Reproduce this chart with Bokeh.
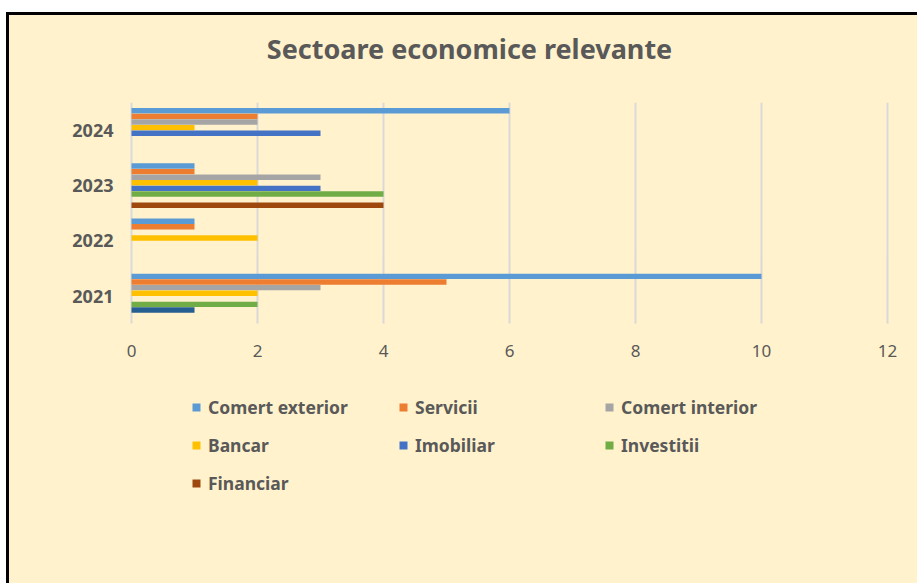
from bokeh.plotting import figure
from bokeh.models import (Range1d, FixedTicker, Legend, LegendItem, LinearAxis, Label)
from bokeh.transform import dodge
from bokeh.embed import file_html
from bokeh.resources import INLINE

years = [2021, 2022, 2023, 2024]
series_names = ["Comert exterior", "Servicii", "Comert interior", "Bancar",
                "Imobiliar", "Investitii", "Altele", "Financiar"]
comert_exterior = [10, 1, 1, 6]
servicii = [5, 1, 1, 2]
comert_interior = [3, 0, 3, 2]
bancar = [2, 2, 2, 1]
imobiliar = [0, 0, 3, 3]
investitii = [2, 0, 4, 0]
altele = [1, 0, 0, 0]
financiar = [0, 0, 4, 0]
x_ticks = [0, 2, 4, 6, 8, 10, 12]
title_text = "Sectoare economice relevante"

colors = ["#5B9BD5", "#ED7D31", "#A5A5A5", "#FFC000",
          "#4472C4", "#70AD47", "#255E91", "#9E480E"]
values = [comert_exterior, servicii, comert_interior, bancar,
          imobiliar, investitii, altele, financiar]

BG = "#FFF2CC"
TXT = "#595959"
FONT = "Noto Sans"

# ---- layout geometry (page pixels) ----
CX, CY = 9, 15            # canvas origin on page
ZERO_X = 131              # page x of value 0
FRAME_L = 120             # frame left on page
PX_PER_X = 63.0
PX_PER_Y = 55.2
CAT_TOP = 102.3           # top of 2024 category band
FRAME_H = 583 - CY
FRAME_W = 917 - FRAME_L
FRAME_B = CY + FRAME_H    # frame bottom on page

y_top = max(years) + 0.5 + (CAT_TOP - CY) / PX_PER_Y
y_bot = y_top - FRAME_H / PX_PER_Y
x_min = -(ZERO_X - FRAME_L) / PX_PER_X
x_max = x_min + FRAME_W / PX_PER_X

p = figure(frame_width=FRAME_W, frame_height=FRAME_H,
           x_range=Range1d(x_min, x_max), y_range=Range1d(y_bot, y_top),
           output_backend="svg", toolbar_location=None,
           x_axis_location=None, y_axis_location=None,
           min_border_left=FRAME_L - CX, min_border_right=0,
           min_border_top=0, min_border_bottom=0,
           margin=(12, 0, 0, 6),
           styles={"border-left": "3px solid black", "border-top": "3px solid black",
                   "background-color": BG})
p.border_fill_alpha = 0
p.background_fill_alpha = 0
p.outline_line_color = None
p.grid.visible = False

# gridlines over the category area
y_lo = min(years) - 0.5
y_hi = max(years) + 0.5
p.segment(x0=x_ticks, x1=x_ticks, y0=[y_lo] * len(x_ticks), y1=[y_hi] * len(x_ticks),
          line_color="#D9D9D9", line_width=2)

n = len(values)
bar_h = 5.6 / PX_PER_Y
total = bar_h * n
renderers = []
for i, (name, vals, col) in enumerate(zip(series_names, values, colors)):
    off = total / 2 - (i + 0.5) * bar_h
    data = {"year": years, "v": vals}
    r = p.hbar(y=dodge("year", off), right="v", left=0,
               height=bar_h * 0.97, source=data, fill_color=col, line_color=None)
    renderers.append(r)

# axes
xax = LinearAxis(ticker=FixedTicker(ticks=x_ticks), fixed_location=y_lo)
xax.axis_line_color = None
xax.major_tick_line_color = None
xax.minor_tick_line_color = None
xax.major_tick_out = 0
xax.major_tick_in = 0
xax.major_label_text_font = FONT
xax.major_label_text_font_size = "17px"
xax.major_label_text_color = TXT
xax.major_label_standoff = 21
p.add_layout(xax, "below")

yax = LinearAxis(ticker=FixedTicker(ticks=years))
yax.axis_line_color = None
yax.major_tick_line_color = None
yax.minor_tick_line_color = None
yax.major_tick_out = 0
yax.major_tick_in = 0
yax.major_label_text_font = FONT
yax.major_label_text_font_style = "bold"
yax.major_label_text_font_size = "18px"
yax.major_label_text_color = TXT
yax.major_label_standoff = 7
p.add_layout(yax, "left")

# title
title = Label(x=(469 - ZERO_X) / PX_PER_X, y=y_hi + (CAT_TOP - 48) / PX_PER_Y,
              text=title_text, text_align="center", text_baseline="middle",
              text_font=FONT, text_font_size="27px", text_font_style="bold",
              text_color=TXT)
p.add_layout(title)

# legends: three columns
columns = [[0, 3, 7], [1, 4], [2, 5]]
col_x = [191, 398, 604]
row_y = [407, 445, 483]
for cx, idxs in zip(col_x, columns):
    items = [LegendItem(label=series_names[k], renderers=[renderers[k]]) for k in idxs]
    bottom_page = row_y[len(idxs) - 1] + 12.5
    lg = Legend(items=items, location=(cx - FRAME_L, FRAME_B - bottom_page),
                orientation="vertical", padding=0, margin=0, spacing=13,
                glyph_width=10, glyph_height=10, label_height=25,
                label_standoff=7, border_line_color=None,
                background_fill_alpha=0,
                label_text_font=FONT, label_text_font_style="bold",
                label_text_font_size="17.5px", label_text_color=TXT)
    p.add_layout(lg)

open("out.html", "w").write(file_html(p, INLINE))
